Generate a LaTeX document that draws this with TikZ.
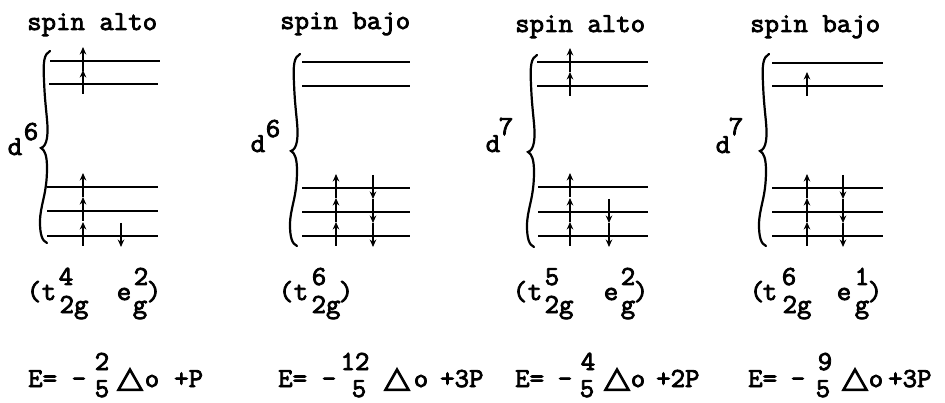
\documentclass[tikz,border=0pt]{standalone}
\usepackage{fontspec}
\usepackage{graphicx}
\usetikzlibrary{arrows.meta}
\newfontfamily\tw{Latin Modern Mono}[FakeStretch=1.02,FakeBold=3]
\newfontfamily\symb{DejaVu Sans}[FakeBold=3]
\newcommand{\tri}{{\symb\fontsize{10}{10}\selectfont\resizebox{26pt}{19pt}{△}}}
\tikzset{
  txt/.style={inner sep=0pt, anchor=base, font=\tw\fontsize{27.5}{27.5}\selectfont},
  txtw/.style={txt, anchor=base west},
  lvl/.style={line width=2.8pt},
  upe/.style={line width=1.3pt, -{Stealth[length=7.5pt,width=6.5pt]}},
  bracestroke/.style={line width=2.2pt, line cap=round},
}
\newcommand{\bracepath}{%
  (50,51) .. controls (44,54) and (43,62) .. (44,80)
  .. controls (45,110) and (49,125) .. (47,138)
  .. controls (46,144) and (44,147) .. (41,148)
  .. controls (45,150) and (47,156) .. (47,168)
  .. controls (47,195) and (40,205) .. (40,222)
  .. controls (40,234) and (42,241) .. (47,243)}
\begin{document}
\begin{tikzpicture}[x=1pt,y=-1pt]
\useasboundingbox (0,0) rectangle (945,403);
% titles
\node[txtw] (t1) at (27,30) {spin alto};
\node[txtw] (t2) at (280,29) {spin bajo};
\node[txtw] (t3) at (515,32) {spin alto};
\node[txtw] (t4) at (750,32) {spin bajo};
% d labels
\node[txt] (d1) at (15,155) {d}; \node[txt] (d1s) at (31,140) {6};
\node[txt] (d2) at (258,152) {d}; \node[txt] (d2s) at (273,137) {6};
\node[txt] (d3) at (493,152) {d}; \node[txt] (d3s) at (506,135) {7};
\node[txt] (d4) at (723,153) {d}; \node[txt] (d4s) at (736,135) {7};
% braces
\draw[bracestroke] \bracepath;
\begin{scope}[xshift=250pt,yshift=-3pt]\draw[bracestroke] \bracepath;\end{scope}
\begin{scope}[xshift=487pt,yshift=-4pt]\draw[bracestroke] \bracepath;\end{scope}
\begin{scope}[xshift=719pt,yshift=-3pt]\draw[bracestroke] \bracepath;\end{scope}
% levels
\foreach \xa/\xb/\y in {50/160/61, 49/158/84, 47/158/187, 47/158/211, 47/158/236,
  302/410/62, 302/410/86, 302/410/188, 302/410/212, 302/410/236,
  537/648/62, 537/648/86, 538/648/187, 538/648/212, 538/648/236,
  772/883/63, 772/883/86, 772/883/188, 772/883/212, 772/883/236}
  \draw[lvl] (\xa,\y) -- (\xb,\y);
% electrons up
\foreach \x/\y in {83/61, 83/84, 83/187, 83/211, 83/236,
  336/188, 336/212, 336/236,
  570/62, 570/86, 570/187, 570/212, 570/236,
  807/86, 807/188, 807/212, 807/236}
  \draw[upe] (\x,{\y+10}) -- (\x,{\y-14});
% electrons down
\foreach \x/\y in {121/236, 373/188, 373/212, 373/236, 609/212, 609/236,
  843/188, 843/212, 843/236}
  \draw[upe] (\x,{\y-13}) -- (\x,{\y+11});
% configurations
\node[txt] (c1a) at (34,300) {(}; \node[txt] (c1b) at (49,300) {t};
\node[txt] (c1c) at (66,285) {4}; \node[txt] (c1d) at (74,313) {2g};
\node[txt] (c1e) at (124,300) {e}; \node[txt] (c1f) at (141,285) {2};
\node[txt] (c1g) at (140,313) {g}; \node[txt] (c1h) at (154,300) {)};
\node[txt] (c2a) at (286,300) {(}; \node[txt] (c2b) at (301,300) {t};
\node[txt] (c2c) at (319,285) {6}; \node[txt] (c2d) at (326,313) {2g};
\node[txt] (c2h) at (346,300) {)};
\node[txt] (c3a) at (520,300) {(}; \node[txt] (c3b) at (535,300) {t};
\node[txt] (c3c) at (552,285) {5}; \node[txt] (c3d) at (559,313) {2g};
\node[txt] (c3e) at (611,300) {e}; \node[txt] (c3f) at (628,285) {2};
\node[txt] (c3g) at (628,313) {g}; \node[txt] (c3h) at (641,300) {)};
\node[txt] (c4a) at (757,300) {(}; \node[txt] (c4b) at (770,300) {t};
\node[txt] (c4c) at (789,285) {6}; \node[txt] (c4d) at (797,313) {2g};
\node[txt] (c4e) at (844,300) {e}; \node[txt] (c4f) at (862,285) {1};
\node[txt] (c4g) at (862,313) {g}; \node[txt] (c4h) at (875,300) {)};
% energies
\node[txtw] (e1a) at (28,387) {E=}; \node[txt] (e1b) at (79,387) {–};
\node[txt] (e1c) at (102,370) {2}; \node[txt] (e1d) at (102,397) {5};
\node[inner sep=0pt, anchor=base] (e1e) at (130,387) {\tri};
\node[txt] (e1f) at (152,387) {o}; \node[txtw] (e1g) at (174,387) {+P};
\node[txtw] (e2a) at (278,387) {E=}; \node[txt] (e2b) at (329,387) {–};
\node[txt] (e2c) at (355,370) {12}; \node[txt] (e2d) at (359,397) {5};
\node[inner sep=0pt, anchor=base] (e2e) at (397,387) {\tri};
\node[txt] (e2f) at (421,387) {o}; \node[txtw] (e2g) at (440,387) {+3P};
\node[txtw] (e3a) at (515,387) {E=}; \node[txt] (e3b) at (565,387) {–};
\node[txt] (e3c) at (588,370) {4}; \node[txt] (e3d) at (587,397) {5};
\node[inner sep=0pt, anchor=base] (e3e) at (617,387) {\tri};
\node[txt] (e3f) at (638,387) {o}; \node[txtw] (e3g) at (656,387) {+2P};
\node[txtw] (e4a) at (748,387) {E=}; \node[txt] (e4b) at (798,387) {–};
\node[txt] (e4c) at (825,370) {9}; \node[txt] (e4d) at (823,397) {5};
\node[inner sep=0pt, anchor=base] (e4e) at (855,387) {\tri};
\node[txt] (e4f) at (876,387) {o}; \node[txtw] (e4g) at (888,387) {+3P};
\end{tikzpicture}
\end{document}
